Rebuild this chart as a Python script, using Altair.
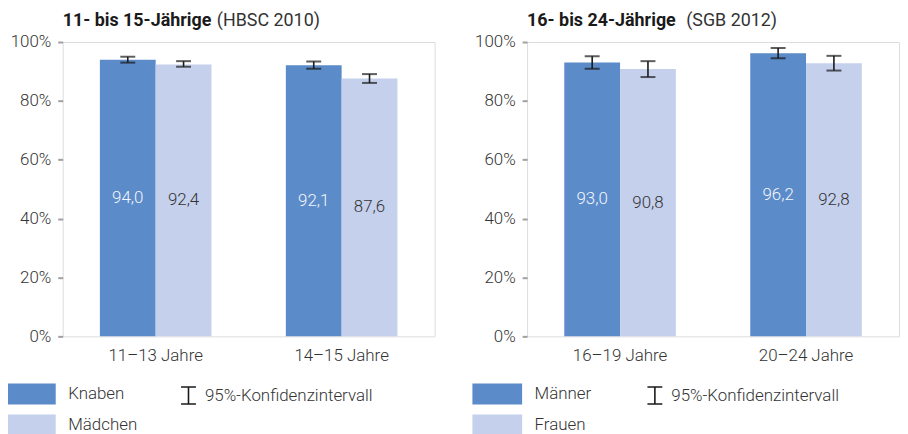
import altair as alt
import pandas as pd

# ---------------- data ----------------
groups_l = ["11–13 Jahre", "14–15 Jahre"]
series_l = ["Knaben", "Mädchen"]
knaben = [94.0, 92.1]
maedchen = [92.4, 87.6]
knaben_lo = [93.0, 90.9]
knaben_hi = [95.0, 93.4]
maedchen_lo = [91.6, 86.1]
maedchen_hi = [93.5, 89.1]

groups_r = ["16–19 Jahre", "20–24 Jahre"]
series_r = ["Männer", "Frauen"]
maenner = [93.0, 96.2]
frauen = [90.8, 92.8]
maenner_lo = [90.9, 94.5]
maenner_hi = [95.2, 98.0]
frauen_lo = [88.1, 90.3]
frauen_hi = [93.5, 95.3]

y_ticks = [0, 20, 40, 60, 80, 100]
ci_label = "95%-Konfidenzintervall"

DARK = "#5b8bc9"
LIGHT = "#c5d0ec"
FONT = "Roboto"
TXT = "#333333"


def fmt(v):
    return f"{v:.1f}".replace(".", ",")


def make_df(groups, series, a, b, a_lo, a_hi, b_lo, b_hi):
    rows = []
    for i, g in enumerate(groups):
        for s, v, lo, hi, tc in [
            (series[0], a[i], a_lo[i], a_hi[i], "#f4f6fb"),
            (series[1], b[i], b_lo[i], b_hi[i], TXT),
        ]:
            rows.append(dict(group=g, series=s, value=v, lo=lo, hi=hi,
                             mid=v / 2, label=fmt(v), tc=tc, ci=ci_label))
    return pd.DataFrame(rows)


def panel(df, groups, series, bold, rest, rest_x, leg_x):
    base = alt.Chart(df)
    x = alt.X("group:N",
              scale=alt.Scale(domain=groups, paddingInner=0.4, paddingOuter=0.2),
              axis=alt.Axis(title=None, labelAngle=0, ticks=False, domain=False,
                            labelFontSize=17, labelPadding=11, labelColor=TXT,
                            labelFont=FONT, labelFontWeight=300))
    xo = alt.XOffset("series:N",
                     scale=alt.Scale(domain=series, paddingInner=0, paddingOuter=0))
    y = alt.Y("value:Q", scale=alt.Scale(domain=[0, 100], nice=False),
              axis=alt.Axis(title=None, values=y_ticks, grid=False, domain=False,
                            labelExpr="datum.value + '%'", tickSize=5,
                            tickColor="#a0a0a0", tickWidth=2, labelPadding=7,
                            labelFontSize=17, labelColor=TXT, labelFont=FONT,
                            labelFontWeight=300))
    bars = base.mark_bar().encode(
        x=x, xOffset=xo, y=y,
        color=alt.Color("series:N",
                        scale=alt.Scale(domain=series, range=[DARK, LIGHT]),
                        legend=alt.Legend(
                            title=None, orient="none", legendX=leg_x + 14.5,
                            legendY=343.5, direction="vertical",
                            symbolType="M-2.38,-1H2.38V1H-2.38Z", symbolSize=441,
                            symbolStrokeWidth=0, symbolOpacity=1,
                            labelFontSize=17, labelFont=FONT, labelFontWeight=300,
                            labelColor=TXT, labelOffset=27, rowPadding=10,
                            labelLimit=300)),
    )
    rule = base.mark_rule(color="#1a1a1a", strokeWidth=1.6).encode(
        x=x, xOffset=xo, y="lo:Q", y2="hi:Q",
        strokeDash=alt.StrokeDash("ci:N",
                                  scale=alt.Scale(domain=[ci_label], range=[[1, 0]]),
                                  legend=alt.Legend(
                                      title=None, orient="none",
                                      legendX=leg_x + 174, legendY=346,
                                      symbolType="M-0.88,-1H0.88M0,-1V1M-0.88,1H0.88",
                                      symbolSize=289, symbolStrokeColor="#1a1a1a",
                                      symbolStrokeWidth=1.6,
                                      labelFontSize=17, labelFont=FONT,
                                      labelFontWeight=300, labelColor=TXT,
                                      labelOffset=7, labelLimit=300)),
    )
    cap_lo = base.mark_tick(color="#1a1a1a", thickness=2, size=15).encode(
        x=x, xOffset=xo, y="lo:Q")
    cap_hi = base.mark_tick(color="#1a1a1a", thickness=2, size=15).encode(
        x=x, xOffset=xo, y="hi:Q")
    labels = base.mark_text(fontSize=17, font=FONT, fontWeight=300).encode(
        x=x, xOffset=xo, y="mid:Q", text="label:N",
        fill=alt.Fill("tc:N", scale=None))
    tdf = pd.DataFrame({"b": [bold], "r": [rest]})
    t1 = alt.Chart(tdf).mark_text(align="left", baseline="alphabetic", fontSize=18,
                                  font=FONT, fontWeight="bold", color="#1a1a1a").encode(
        x=alt.value(0), y=alt.value(-16), text="b:N")
    t2 = alt.Chart(tdf).mark_text(align="left", baseline="alphabetic", fontSize=18,
                                  font=FONT, fontWeight="normal", color=TXT).encode(
        x=alt.value(rest_x), y=alt.value(-16), text="r:N")
    return alt.layer(bars, rule, cap_lo, cap_hi, labels, t1, t2).properties(
        width=374, height=296)


df_l = make_df(groups_l, series_l, knaben, maedchen, knaben_lo, knaben_hi,
               maedchen_lo, maedchen_hi)
df_r = make_df(groups_r, series_r, maenner, frauen, maenner_lo, maenner_hi,
               frauen_lo, frauen_hi)

left = panel(df_l, groups_l, series_l, "11- bis 15-Jährige", "(HBSC 2010)", 155, -57)
right = panel(df_r, groups_r, series_r, "16- bis 24-Jährige", "(SGB 2012)", 160, -55)

chart = alt.hconcat(left, right, spacing=38).resolve_scale(
    color="independent", strokeDash="independent", x="independent",
    xOffset="independent"
).properties(
    padding={"left": 1, "top": 2, "right": 0, "bottom": 0}
).configure_view(
    fill="#efefef", stroke="#a0a0a0", strokeWidth=2
).configure(background="white")

chart.save("out.html", embed_options={"renderer": "svg", "actions": False})
